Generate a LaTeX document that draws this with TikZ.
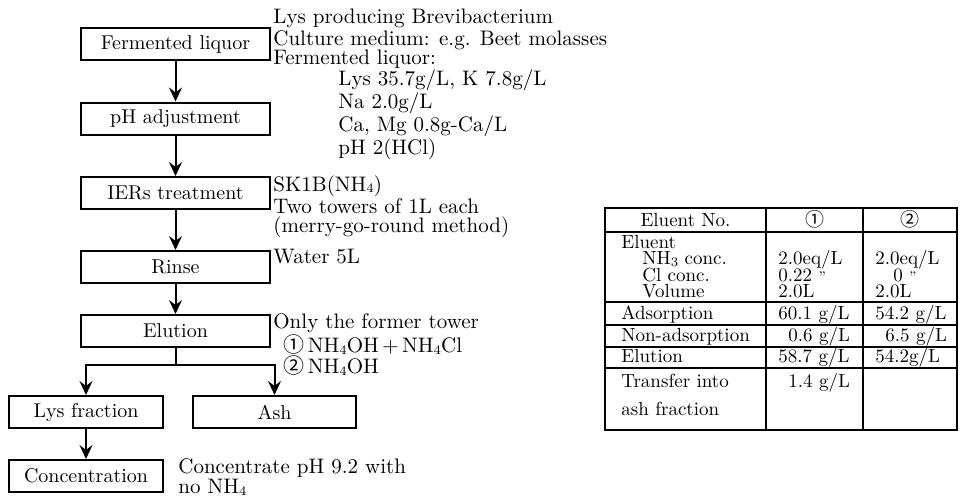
\documentclass[tikz,border=0pt]{standalone}
\usepackage{fontspec}
\newfontfamily\circfont{Noto Sans CJK JP}
\usetikzlibrary{arrows.meta,positioning}

\newcommand{\cnum}[1]{{\circfont #1}}
\newcommand{\chemsub}[1]{\raisebox{-0.9pt}{\fontsize{6.5pt}{6.5pt}\selectfont #1}}

\tikzset{
  procbox/.style={draw, line width=1pt, minimum height=16pt, inner sep=0pt},
  flow/.style={line width=1pt, -{Stealth[length=7pt,width=6.5pt,inset=2.5pt]}},
  note/.style={align=left, anchor=north west, inner sep=0pt, font=\fontsize{10.5pt}{9.5pt}\selectfont},
  cell/.style={anchor=base west, inner sep=0pt, font=\fontsize{9.5pt}{8pt}\selectfont},
  rule/.style={line width=0.8pt},
}

\begin{document}
\begin{tikzpicture}[x=0.5pt, y=-0.5pt]
    \useasboundingbox (0,0) rectangle (966,499);
    % process steps
    \node[procbox, minimum width=94.5pt] (ferm) at (175.5,44) {Fermented liquor};
    \node[procbox, minimum width=94.5pt] (phadj) at (175.5,118.5) {pH adjustment};
    \node[procbox, minimum width=94.5pt] (ier) at (175.5,193) {IERs treatment};
    \node[procbox, minimum width=94.5pt] (rinse) at (175.5,267) {Rinse};
    \node[procbox, minimum width=94.5pt] (elu) at (175.5,331) {Elution};
    \node[procbox, minimum width=77pt] (lys) at (86,412) {Lys fraction};
    \node[procbox, minimum width=81.5pt] (ash) at (274.5,412) {Ash};
    \node[procbox, minimum width=77pt] (conc) at (86,476) {Concentration};
    \draw[flow] (ferm) -- (phadj);
    \draw[flow] (phadj) -- (ier);
    \draw[flow] (ier) -- (rinse);
    \draw[flow] (rinse) -- (elu);
    \coordinate (fork) at (175.5,365);
    \draw[line width=1pt] (elu) -- (fork);
    \draw[flow] (fork) -| (lys);
    \draw[flow] (fork) -| (ash);
    \draw[flow] (lys) -- (conc);
    % conditions
    \node[note] (ferm-note) at (273,9) {Lys producing Brevibacterium\\
        Culture medium: e.g. Beet molasses\\
        Fermented liquor:\\
        \hspace*{32.5pt}Lys 35.7g/L, K 7.8g/L\\
        \hspace*{32.5pt}Na 2.0g/L\\
        \hspace*{32.5pt}Ca, Mg 0.8g-Ca/L\\
        \hspace*{32.5pt}pH 2(HCl)};
    \node[note] (ier-note) at (273,175) {SK1B(NH\chemsub{4})\\
        Two towers of 1L each\\
        (merry-go-round method)};
    \node[note] (rinse-note) at (273,249) {Water 5L};
    \node[note] (elu-note) at (273,313) {Only the former tower\\
        \hspace*{5pt}\cnum{①}\,NH\chemsub{4}OH\,+\,NH\chemsub{4}Cl\\
        \hspace*{5pt}\cnum{②}\,NH\chemsub{4}OH};
    \node[note, font=\fontsize{10.5pt}{10pt}\selectfont] (conc-note) at (178,458) {Concentrate pH 9.2 with\\
        no NH\chemsub{4}};
    % result table
    \draw[line width=1pt] (605,208) rectangle (957,430);
    \draw[rule] (766,208) -- (766,430) (863,208) -- (863,430);
    \foreach \ry in {232,302,325,347,368}
        \draw[rule] (605,\ry) -- (957,\ry);
    \node[cell, anchor=base] (h-no) at (685.5,226) {Eluent No.};
    \node[cell, anchor=base] (h-one) at (814.5,226) {\cnum{①}};
    \node[cell, anchor=base] (h-two) at (910,226) {\cnum{②}};
    \node[cell] (r-eluent) at (621,248) {Eluent};
    \node[cell] (r-nh) at (642,264.5) {NH\chemsub{3} conc.};
    \node[cell] (r-cl) at (642,281) {Cl conc.};
    \node[cell] (r-vol) at (642,297.5) {Volume};
    \node[cell] (r-ads) at (621,319) {Adsorption};
    \node[cell] (r-non) at (621,341) {Non-adsorption};
    \node[cell] (r-elu) at (621,362.5) {Elution};
    \node[cell] (r-tr) at (621,387) {Transfer into};
    \node[cell] (r-ash) at (621,415) {ash fraction};
    \node[cell] (a-nh) at (778,264.5) {2.0eq/L};
    \node[cell] (a-cl) at (778,281) {0.22 {\scriptsize''}};
    \node[cell] (a-vol) at (778,297.5) {2.0L};
    \node[cell] (a-ads) at (778,319) {60.1 g/L};
    \node[cell] (a-non) at (788,341) {0.6 g/L};
    \node[cell] (a-elu) at (778,362.5) {58.7 g/L};
    \node[cell] (a-tr) at (788,387) {1.4 g/L};
    \node[cell] (b-nh) at (875,264.5) {2.0eq/L};
    \node[cell] (b-cl) at (893,281) {0 {\scriptsize''}};
    \node[cell] (b-vol) at (875,297.5) {2.0L};
    \node[cell] (b-ads) at (875,319) {54.2 g/L};
    \node[cell] (b-non) at (885,341) {6.5 g/L};
    \node[cell] (b-elu) at (875,362.5) {54.2g/L};
\end{tikzpicture}
\end{document}
